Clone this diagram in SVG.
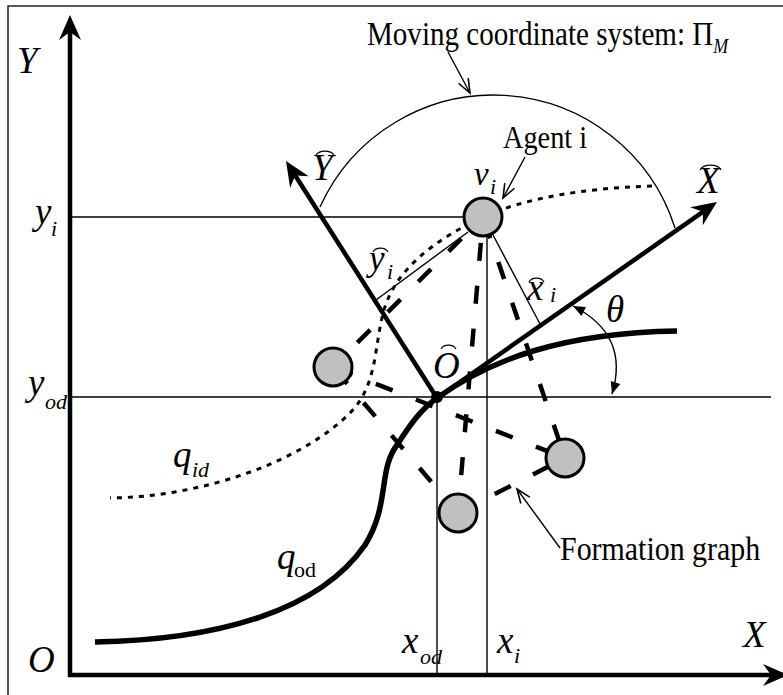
<svg xmlns="http://www.w3.org/2000/svg" width="783" height="695" viewBox="0 0 783 695">
<style>
.frame{stroke:#222;stroke-width:1.5;fill:none}
.thin{stroke:#000;stroke-width:1.4;fill:none}
.axis{stroke:#000;stroke-width:4.5;fill:none}
.edge{stroke:#000;stroke-width:4.5;fill:none;stroke-dasharray:18 25}
.dot{stroke:#000;stroke-width:3;fill:none;stroke-dasharray:5 6}
.traj{stroke:#000;stroke-width:5.5;fill:none}
.node{fill:#c0c0c0;stroke:#000;stroke-width:3}
.hat{stroke:#000;stroke-width:1.2;fill:none}
text{font-family:"Liberation Serif","Times New Roman",serif;fill:#000}
.it{font-style:italic}
.big{font-size:37px}
.sub{font-size:22px}
</style>
<defs>
<marker id="big" markerUnits="userSpaceOnUse" markerWidth="40" markerHeight="40" refX="0" refY="0" orient="auto" overflow="visible">
<path d="M8,0 L-17,-11 L-9,0 L-17,11 Z" fill="#000"/>
</marker>
<marker id="vee" markerUnits="userSpaceOnUse" markerWidth="30" markerHeight="30" refX="0" refY="0" orient="auto" overflow="visible">
<path d="M-14,-5.5 L0,0 L-14,5.5" fill="none" stroke="#000" stroke-width="1.6"/>
</marker>
<marker id="tri" markerUnits="userSpaceOnUse" markerWidth="30" markerHeight="30" refX="0" refY="0" orient="auto-start-reverse" overflow="visible">
<path d="M0,0 L-12,-5 L-12,5 Z" fill="#000"/>
</marker>
</defs>

<g id="frame">
<path class="frame" d="M8,695 L8,6 L783,6"/>
</g>

<g id="axes">
<line class="axis" x1="70" y1="677" x2="70" y2="23" marker-end="url(#big)"/>
<line class="axis" x1="68" y1="675" x2="780" y2="675" marker-end="url(#big)"/>
<text class="it big" x="17" y="73">Y</text>
<text class="it big" x="743" y="647">X</text>
<text class="it big" x="28" y="672">O</text>
</g>

<g id="guides">
<line class="thin" x1="70" y1="217" x2="470" y2="217"/>
<line class="thin" x1="70" y1="397" x2="771" y2="397"/>
<line class="thin" x1="437" y1="398" x2="437" y2="675"/>
<line class="thin" x1="487" y1="234" x2="487" y2="675"/>
<line class="thin" x1="468" y1="232" x2="376" y2="300"/>
<line class="thin" x1="492" y1="233" x2="540" y2="324"/>
</g>

<g id="arc-moving">
<path class="thin" d="M320,207 A190.4,190.4 0 0 1 675,228"/>
</g>

<g id="connectors">
<path class="dot" d="M652,186 C585,188 525,198 483,217 C430,242 395,272 384,310 C374,345 378,385 350,413 C300,463 200,497 110,498"/>
<line class="edge" x1="483" y1="217" x2="333" y2="367" stroke-dashoffset="12.4"/>
<line class="edge" x1="333" y1="367" x2="565" y2="458" stroke-dashoffset="-3"/>
<line class="edge" x1="333" y1="367" x2="458" y2="513" stroke-dashoffset="39"/>
<line class="edge" x1="483" y1="217" x2="458" y2="513" stroke-dashoffset="17"/>
<line class="edge" x1="483" y1="217" x2="565" y2="458" stroke-dashoffset="38.5"/>
<line class="edge" x1="565" y1="458" x2="458" y2="513" stroke-dashoffset="25"/>
<path class="traj" d="M95,642 C220,640 320,610 365,545 C390,505 378,470 397,445 C410,425 420,410 437,398 C490,360 560,333 677,331"/>
<line class="axis" x1="437" y1="398" x2="290.3" y2="167.8" marker-end="url(#big)"/>
<line class="axis" x1="437" y1="398" x2="710.4" y2="206.6" marker-end="url(#big)"/>
<path class="thin" d="M573,306 Q630,335 612,394" marker-start="url(#tri)" marker-end="url(#tri)"/>
<line class="thin" x1="448" y1="52" x2="470" y2="93" marker-end="url(#vee)"/>
<line class="thin" x1="525" y1="157" x2="503" y2="198" marker-end="url(#vee)"/>
<line class="thin" x1="560" y1="548" x2="517" y2="489" marker-end="url(#vee)"/>
</g>

<g id="agent-i"><circle class="node" cx="483" cy="217" r="19"/></g>
<g id="agent-left"><circle class="node" cx="333" cy="367" r="19"/></g>
<g id="agent-right"><circle class="node" cx="565" cy="458" r="19"/></g>
<g id="agent-bottom"><circle class="node" cx="458" cy="513" r="19"/></g>
<g id="origin-hat"><circle cx="437" cy="397" r="6" fill="#000"/></g>

<g id="labels">
<text transform="translate(367,45) scale(0.855,1)" font-size="34">Moving coordinate system: Π<tspan class="it" font-size="21" dy="8">M</tspan></text>
<text transform="translate(503,148) scale(0.913,1)" font-size="31">Agent i</text>
<text transform="translate(560,560) scale(0.88,1)" font-size="34">Formation graph</text>

<text class="it big" x="35" y="224">y</text>
<text class="it sub" x="51" y="236">i</text>
<text class="it big" x="28" y="395">y</text>
<text class="it sub" x="45" y="409">od</text>
<text class="it big" x="173" y="467">q</text>
<text class="it sub" x="192" y="477">id</text>
<text class="it big" x="277" y="569">q</text>
<text class="sub" x="294" y="577">od</text>
<text class="it big" x="402" y="653">x</text>
<text class="it sub" x="420" y="664">od</text>
<text class="it big" x="497" y="653">x</text>
<text class="it sub" x="514" y="663">i</text>

<text class="it big" x="312" y="180">Y</text>
<path class="hat" d="M316,155 A10,7 0 0 1 334,155"/>
<text class="it big" x="697" y="193">X</text>
<path class="hat" d="M700,170 A11,7 0 0 1 721,170"/>
<text class="it" x="474" y="185" font-size="33">v</text>
<text class="it sub" x="490" y="194">i</text>
<text class="it big" x="433" y="378">O</text>
<path class="hat" d="M441,349 A8,6 0 0 1 456,349"/>
<text class="it" x="369" y="270" font-size="35">y</text>
<text class="it sub" x="387" y="279">i</text>
<path class="hat" d="M373,252 A8,6 0 0 1 388,252"/>
<text class="it" x="527" y="300" font-size="37">x</text>
<text class="it sub" x="550" y="302">i</text>
<path class="hat" d="M529,282 A8,6 0 0 1 544,282"/>
<text class="it" x="606" y="322" font-size="37">θ</text>
</g>
</svg>
